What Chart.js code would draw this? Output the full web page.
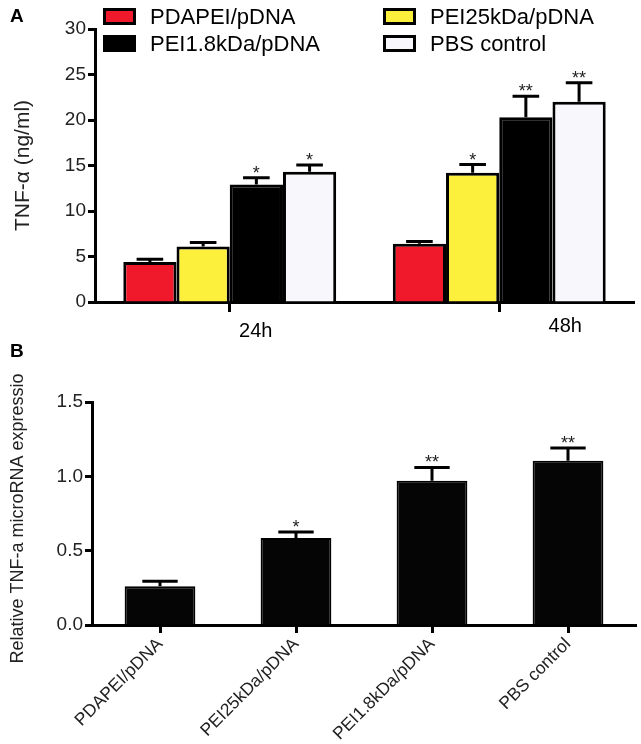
<!DOCTYPE html>
<html>
<head>
<meta charset="utf-8">
<title>TNF-α</title>
<script src="https://cdn.jsdelivr.net/npm/chart.js@4"></script>
<style>
body { margin: 0; background: #fff; font-family: "Liberation Sans", Arial, sans-serif; }
#page { position: relative; width: 641px; height: 744px; overflow: hidden; }
.panel { position: absolute; left: 10px; font-weight: bold; font-size: 19px; line-height: 19px; }
#chartA { position: absolute; left: 0; top: 0; }
#chartB { position: absolute; left: 0; top: 373px; }
#legendA { position: absolute; left: 103px; top: 8px; display: grid; grid-template-columns: 280px auto; row-gap: 10px; }
.item { display: flex; align-items: center; height: 17px; font-size: 22px; color: #000; }
.box { width: 33px; height: 17px; border: 3px solid #000; box-sizing: border-box; margin-right: 14px; }
</style>
</head>
<body>
<div id="page">
    <canvas id="chartA" width="641" height="345"></canvas>
    <canvas id="chartB" width="641" height="371"></canvas>
    <div class="panel" style="top:6px">A</div>
    <div class="panel" style="top:341px">B</div>
    <div id="legendA"></div>
</div>
<script>
// panel A: TNF-a (ng/ml) by time point
var timeLabels = ['24h', '48h'];
var seriesNames = ['PDAPEI/pDNA', 'PEI25kDa/pDNA', 'PEI1.8kDa/pDNA', 'PBS control'];
var pdapeiValues = [4.4, 6.4];
var pdapeiErrors = [0.3, 0.25];
var pei25Values = [6.1, 14.2];
var pei25Errors = [0.45, 0.9];
var pei18Values = [12.9, 20.3];
var pei18Errors = [0.75, 2.3];
var pbsValues = [14.3, 22.0];
var pbsErrors = [0.75, 2.1];
var pdapeiStars = ['', ''];
var pei25Stars = ['', '*'];
var pei18Stars = ['*', '**'];
var pbsStars = ['*', '**'];
var tickA = [0, 5, 10, 15, 20, 25, 30];

// panel B: relative TNF-a microRNA expression
var groupLabels = ['PDAPEI/pDNA', 'PEI25kDa/pDNA', 'PEI1.8kDa/pDNA', 'PBS control'];
var relValues = [0.26, 0.585, 0.97, 1.105];
var relErrors = [0.035, 0.04, 0.09, 0.085];
var relStars = ['', '*', '**', '**'];
var tickB = [0, 0.5, 1.0, 1.5];

var FONT = '"Liberation Sans", Arial, sans-serif';

// draws the upper error bar + significance stars above each bar
var errorBars = {
    id: 'errorBars',
    afterDatasetsDraw: function (chart) {
        var ctx = chart.ctx;
        var y = chart.scales.y;
        ctx.save();
        chart.data.datasets.forEach(function (ds, i) {
            var meta = chart.getDatasetMeta(i);
            meta.data.forEach(function (bar, j) {
                var top = y.getPixelForValue(ds.data[j] + ds.errors[j]);
                var half = bar.width * 0.25;
                ctx.strokeStyle = '#000';
                ctx.lineWidth = 3;
                ctx.beginPath();
                ctx.moveTo(bar.x, bar.y);
                ctx.lineTo(bar.x, top);
                ctx.moveTo(bar.x - half, top);
                ctx.lineTo(bar.x + half, top);
                ctx.stroke();
                if (ds.stars[j]) {
                    ctx.fillStyle = '#222';
                    ctx.font = '18px ' + FONT;
                    ctx.textAlign = 'center';
                    ctx.textBaseline = 'alphabetic';
                    ctx.fillText(ds.stars[j], bar.x, top + 1);
                }
            });
        });
        ctx.restore();
    }
};

// category names of panel A sit off to the right of their ticks
var shiftedLabels = {
    id: 'shiftedLabels',
    afterDraw: function (chart, args, opts) {
        var x = chart.scales.x;
        var ctx = chart.ctx;
        ctx.save();
        ctx.font = opts.font;
        ctx.fillStyle = '#000';
        ctx.textAlign = 'center';
        ctx.textBaseline = 'middle';
        chart.data.labels.forEach(function (lab, i) {
            ctx.fillText(lab, x.getPixelForValue(i) + opts.shift[i], x.top + opts.drop[i]);
        });
        ctx.restore();
    }
};

function axisY(min, max, ticks, title, titleSize, width, titlePad, fmt) {
    return {
        min: min,
        max: max,
        afterBuildTicks: function (s) { s.ticks = ticks.map(function (v) { return { value: v }; }); },
        afterFit: function (s) { s.width = width; },
        border: { display: true, color: '#000', width: 3 },
        grid: { drawOnChartArea: false, drawTicks: true, tickLength: 7, tickColor: '#000', tickWidth: 3 },
        ticks: {
            color: '#222',
            padding: 2,
            font: { family: FONT, size: 19 },
            callback: fmt
        },
        title: {
            display: true,
            text: title,
            color: '#222',
            padding: { top: titlePad, bottom: 0 },
            font: { family: FONT, size: titleSize }
        }
    };
}

var chartA = new Chart(document.getElementById('chartA'), {
    type: 'bar',
    data: {
        labels: timeLabels,
        datasets: [
            { label: seriesNames[0], data: pdapeiValues, errors: pdapeiErrors, stars: pdapeiStars, backgroundColor: '#f0182b' },
            { label: seriesNames[1], data: pei25Values, errors: pei25Errors, stars: pei25Stars, backgroundColor: '#fdf03c' },
            { label: seriesNames[2], data: pei18Values, errors: pei18Errors, stars: pei18Stars, backgroundColor: '#000000' },
            { label: seriesNames[3], data: pbsValues, errors: pbsErrors, stars: pbsStars, backgroundColor: '#f8f8fc' }
        ]
    },
    options: {
        responsive: false,
        animation: false,
        layout: { padding: { top: 29, right: 7, left: 0, bottom: 0 } },
        datasets: { bar: { borderColor: '#000', borderWidth: 3, borderSkipped: 'bottom', barPercentage: 1, categoryPercentage: 0.79 } },
        plugins: {
            legend: { display: false },
            tooltip: { enabled: false },
            shiftedLabels: { font: '20px ' + FONT, shift: [26, 66], drop: [29, 24] }
        },
        scales: {
            x: {
                offset: true,
                afterFit: function (s) { s.height = 43; },
                border: { display: true, color: '#000', width: 3 },
                grid: { offset: false, drawOnChartArea: false, drawTicks: true, tickLength: 10, tickColor: '#000', tickWidth: 3 },
                ticks: { display: false }
            },
            y: axisY(0, 30, tickA, 'TNF-α (ng/ml)', 21, 95, 11, function (v) { return v; })
        }
    },
    plugins: [errorBars, shiftedLabels]
});

// html legend in a 2x2 grid, built from the datasets
var legend = document.getElementById('legendA');
chartA.data.datasets.forEach(function (ds) {
    var item = document.createElement('div');
    item.className = 'item';
    var box = document.createElement('span');
    box.className = 'box';
    box.style.background = ds.backgroundColor;
    item.appendChild(box);
    item.appendChild(document.createTextNode(ds.label));
    legend.appendChild(item);
});

new Chart(document.getElementById('chartB'), {
    type: 'bar',
    data: {
        labels: groupLabels,
        datasets: [
            { label: 'Relative TNF-a microRNA expression', data: relValues, errors: relErrors, stars: relStars, backgroundColor: '#050505' }
        ]
    },
    options: {
        responsive: false,
        animation: false,
        layout: { padding: { top: 29, right: 5, left: 0, bottom: 0 } },
        datasets: { bar: { borderColor: '#000', borderWidth: 2, borderSkipped: 'bottom', barPercentage: 0.52, categoryPercentage: 1 } },
        plugins: {
            legend: { display: false },
            tooltip: { enabled: false }
        },
        scales: {
            x: {
                offset: true,
                afterFit: function (s) { s.height = 119; },
                border: { display: true, color: '#000', width: 3 },
                grid: { offset: false, drawOnChartArea: false, drawTicks: true, tickLength: 8, tickColor: '#000', tickWidth: 3 },
                ticks: {
                    color: '#222',
                    padding: 1,
                    minRotation: 45,
                    maxRotation: 45,
                    font: { family: FONT, size: 17.5 }
                }
            },
            y: axisY(0, 1.5, tickB, 'Relative TNF-a microRNA expression', 18, 92, 7, function (v) { return v.toFixed(1); })
        }
    },
    plugins: [errorBars]
});
</script>
</body>
</html>
